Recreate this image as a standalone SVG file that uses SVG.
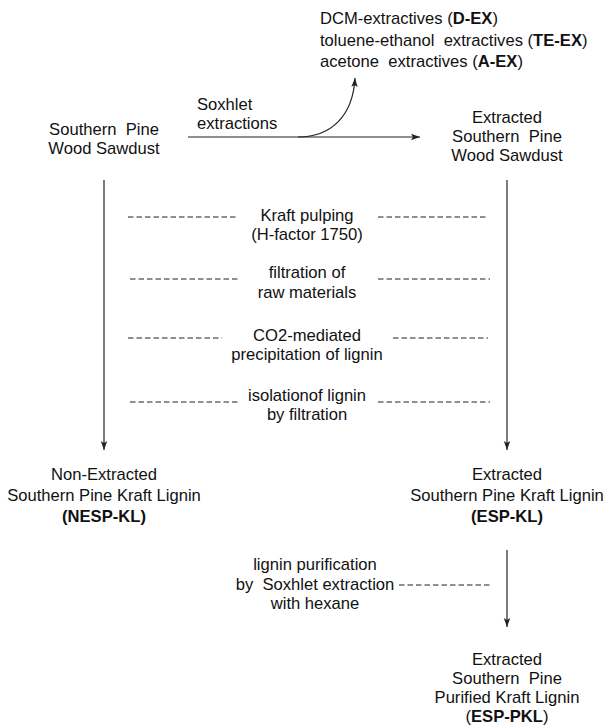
<svg xmlns="http://www.w3.org/2000/svg" width="604" height="726" viewBox="0 0 604 726">
<style>
text{font-family:"Liberation Sans",Arial,sans-serif;font-size:16.6px;fill:#111}
.m{text-anchor:middle}
.b{font-weight:bold}
.ln{stroke:#222;stroke-width:1.2;fill:none}
.ds{stroke:#222;stroke-width:1;stroke-dasharray:5.5 3;fill:none}
</style>
<defs>
<marker id="ah" markerWidth="10" markerHeight="8" refX="9" refY="4" orient="auto" markerUnits="userSpaceOnUse">
<path d="M0,0.8 L9,4 L0,7.2 L2,4 Z" fill="#222"/>
</marker>
</defs>
<rect width="604" height="726" fill="#fff"/>
<g id="connectors">
<line class="ln" x1="188" y1="137" x2="420" y2="137" marker-end="url(#ah)"/>
<path class="ln" d="M298,137 C332,137 353,115 355,78" marker-end="url(#ah)"/>
<line class="ln" x1="104" y1="180" x2="104" y2="450" marker-end="url(#ah)"/>
<line class="ln" x1="507" y1="180" x2="507" y2="450" marker-end="url(#ah)"/>
<line class="ln" x1="507" y1="550" x2="507" y2="627" marker-end="url(#ah)"/>
<line class="ds" x1="128" y1="217" x2="238" y2="217"/>
<line class="ds" x1="378" y1="217" x2="488" y2="217"/>
<line class="ds" x1="130" y1="279" x2="240" y2="279"/>
<line class="ds" x1="378" y1="279" x2="490" y2="279"/>
<line class="ds" x1="128" y1="338" x2="222" y2="338"/>
<line class="ds" x1="393" y1="338" x2="488" y2="338"/>
<line class="ds" x1="130" y1="402" x2="238" y2="402"/>
<line class="ds" x1="378" y1="402" x2="490" y2="402"/>
<line class="ds" x1="399" y1="585" x2="492" y2="585"/>
</g>
<g id="extractives">
<text x="320" y="24" xml:space="preserve">DCM-extractives (<tspan class="b">D-EX</tspan>)</text>
<text x="320" y="46" xml:space="preserve">toluene-ethanol  extractives (<tspan class="b">TE-EX</tspan>)</text>
<text x="320" y="67" xml:space="preserve">acetone  extractives (<tspan class="b">A-EX</tspan>)</text>
</g>
<g id="soxhlet-label">
<text x="197" y="110">Soxhlet</text>
<text x="197" y="129">extractions</text>
</g>
<g id="sawdust">
<text class="m" x="104" y="135" xml:space="preserve">Southern  Pine</text>
<text class="m" x="104" y="154">Wood Sawdust</text>
</g>
<g id="extracted-sawdust">
<text class="m" x="507" y="123">Extracted</text>
<text class="m" x="507" y="142" xml:space="preserve">Southern  Pine</text>
<text class="m" x="507" y="161">Wood Sawdust</text>
</g>
<g id="steps">
<text class="m" x="307" y="221">Kraft pulping</text>
<text class="m" x="307" y="240">(H-factor 1750)</text>
<text class="m" x="307" y="278">filtration of</text>
<text class="m" x="307" y="298">raw materials</text>
<text class="m" x="307" y="341">CO2-mediated</text>
<text class="m" x="307" y="360">precipitation of lignin</text>
<text class="m" x="307" y="401">isolationof lignin</text>
<text class="m" x="307" y="420">by filtration</text>
</g>
<g id="nesp-kl">
<text class="m" x="104" y="480">Non-Extracted</text>
<text class="m" x="104" y="501">Southern Pine Kraft Lignin</text>
<text class="m b" x="104" y="522">(NESP-KL)</text>
</g>
<g id="esp-kl">
<text class="m" x="507" y="480">Extracted</text>
<text class="m" x="507" y="501">Southern Pine Kraft Lignin</text>
<text class="m b" x="507" y="522">(ESP-KL)</text>
</g>
<g id="purification">
<text class="m" x="315" y="570">lignin purification</text>
<text class="m" x="315" y="590" xml:space="preserve">by  Soxhlet extraction</text>
<text class="m" x="315" y="609">with hexane</text>
</g>
<g id="esp-pkl">
<text class="m" x="507" y="665">Extracted</text>
<text class="m" x="507" y="684" xml:space="preserve">Southern  Pine</text>
<text class="m" x="507" y="703">Purified Kraft Lignin</text>
<text class="m" x="507" y="722">(<tspan class="b">ESP-PKL</tspan>)</text>
</g>
</svg>
